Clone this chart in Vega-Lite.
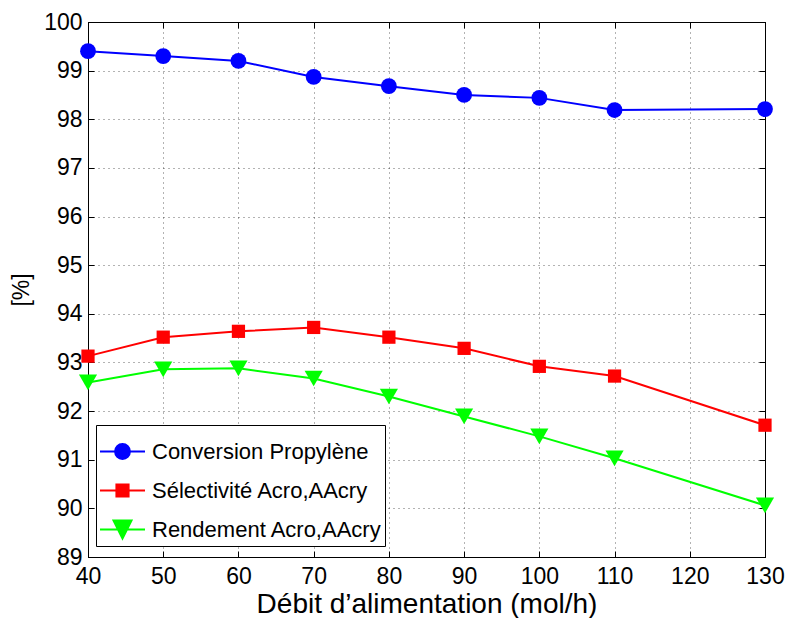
{
  "$schema": "https://vega.github.io/schema/vega-lite/v6.json",
  "width": 677,
  "height": 535,
  "autosize": {"type": "none"},
  "padding": {"left": 88, "top": 22, "right": 22, "bottom": 61},
  "background": "white",
  "config": {
    "font": "Liberation Sans",
    "view": {"stroke": "black", "strokeWidth": 1},
    "axis": {
      "domainColor": "black",
      "tickColor": "black",
      "labelColor": "black",
      "titleColor": "black",
      "tickSize": -6,
      "labelFontSize": 23,
      "labelFont": "Liberation Sans",
      "titleFont": "Liberation Sans",
      "titleFontWeight": "normal",
      "gridColor": "black",
      "gridOpacity": 0.6,
      "gridDash": [1, 4],
      "gridWidth": 1
    }
  },
  "data": {
    "values": [
      {"x": 40, "y": 99.40, "s": "Conversion Propylène"},
      {"x": 50, "y": 99.30, "s": "Conversion Propylène"},
      {"x": 60, "y": 99.20, "s": "Conversion Propylène"},
      {"x": 70, "y": 98.87, "s": "Conversion Propylène"},
      {"x": 80, "y": 98.68, "s": "Conversion Propylène"},
      {"x": 90, "y": 98.50, "s": "Conversion Propylène"},
      {"x": 100, "y": 98.44, "s": "Conversion Propylène"},
      {"x": 110, "y": 98.19, "s": "Conversion Propylène"},
      {"x": 130, "y": 98.21, "s": "Conversion Propylène"},
      {"x": 40, "y": 93.13, "s": "Sélectivité Acro,AAcry"},
      {"x": 50, "y": 93.52, "s": "Sélectivité Acro,AAcry"},
      {"x": 60, "y": 93.64, "s": "Sélectivité Acro,AAcry"},
      {"x": 70, "y": 93.72, "s": "Sélectivité Acro,AAcry"},
      {"x": 80, "y": 93.52, "s": "Sélectivité Acro,AAcry"},
      {"x": 90, "y": 93.29, "s": "Sélectivité Acro,AAcry"},
      {"x": 100, "y": 92.92, "s": "Sélectivité Acro,AAcry"},
      {"x": 110, "y": 92.72, "s": "Sélectivité Acro,AAcry"},
      {"x": 130, "y": 91.71, "s": "Sélectivité Acro,AAcry"},
      {"x": 40, "y": 92.59, "s": "Rendement Acro,AAcry"},
      {"x": 50, "y": 92.86, "s": "Rendement Acro,AAcry"},
      {"x": 60, "y": 92.88, "s": "Rendement Acro,AAcry"},
      {"x": 70, "y": 92.67, "s": "Rendement Acro,AAcry"},
      {"x": 80, "y": 92.30, "s": "Rendement Acro,AAcry"},
      {"x": 90, "y": 91.89, "s": "Rendement Acro,AAcry"},
      {"x": 100, "y": 91.48, "s": "Rendement Acro,AAcry"},
      {"x": 110, "y": 91.03, "s": "Rendement Acro,AAcry"},
      {"x": 130, "y": 90.06, "s": "Rendement Acro,AAcry"}
    ]
  },
  "layer": [
    {
      "mark": {"type": "line", "strokeWidth": 2},
      "encoding": {
        "x": {"field": "x", "type": "quantitative", "scale": {"domain": [40, 130], "nice": false, "zero": false},
          "axis": {"orient": "bottom", "values": [40, 50, 60, 70, 80, 90, 100, 110, 120, 130], "grid": true, "labelPadding": 14, "title": "Débit d’alimentation (mol/h)", "titleFontSize": 28, "titlePadding": 2, "labelFlush": false}},
        "y": {"field": "y", "type": "quantitative", "scale": {"domain": [89, 100], "nice": false, "zero": false},
          "axis": {"orient": "left", "values": [89, 90, 91, 92, 93, 94, 95, 96, 97, 98, 99, 100], "grid": true, "labelPadding": 12, "title": "[%]", "titleFontSize": 23, "titlePadding": 10}},
        "stroke": {"field": "s", "type": "nominal", "scale": {"domain": ["Conversion Propylène", "Sélectivité Acro,AAcry", "Rendement Acro,AAcry"], "range": ["#0000ff", "#ff0000", "#00ff00"]}, "legend": null}
      }
    },
    {
      "mark": {"type": "point", "filled": true, "opacity": 1},
      "encoding": {
        "x": {"field": "x", "type": "quantitative", "scale": {"domain": [40, 130], "nice": false, "zero": false},
          "axis": {"orient": "top", "values": [40, 50, 60, 70, 80, 90, 100, 110, 120, 130], "grid": false, "labels": false, "title": null}},
        "y": {"field": "y", "type": "quantitative", "scale": {"domain": [89, 100], "nice": false, "zero": false},
          "axis": {"orient": "right", "values": [89, 90, 91, 92, 93, 94, 95, 96, 97, 98, 99, 100], "grid": false, "labels": false, "title": null}},
        "fill": {"field": "s", "type": "nominal", "scale": {"domain": ["Conversion Propylène", "Sélectivité Acro,AAcry", "Rendement Acro,AAcry"], "range": ["#0000ff", "#ff0000", "#00ff00"]}, "legend": null},
        "shape": {"field": "s", "type": "nominal", "scale": {"domain": ["Conversion Propylène", "Sélectivité Acro,AAcry", "Rendement Acro,AAcry"], "range": ["circle", "square", "triangle-down"]}, "legend": null},
        "size": {"field": "s", "type": "nominal", "scale": {"type": "ordinal", "domain": ["Conversion Propylène", "Sélectivité Acro,AAcry", "Rendement Acro,AAcry"], "range": [250, 175, 330]}, "legend": null}
      }
    },
    {
      "transform": [{"filter": "datum.y > 1000"}],
      "mark": {"type": "point", "filled": true, "opacity": 1, "strokeWidth": 2},
      "encoding": {
        "x": {"field": "x", "type": "quantitative", "scale": {"domain": [40, 130], "nice": false, "zero": false}, "axis": null},
        "y": {"field": "y", "type": "quantitative", "scale": {"domain": [89, 100], "nice": false, "zero": false}, "axis": null},
        "fill": {"field": "s", "type": "nominal", "scale": {"domain": ["Conversion Propylène", "Sélectivité Acro,AAcry", "Rendement Acro,AAcry"], "range": ["#0000ff", "#ff0000", "#00ff00"]},
          "legend": {"title": null, "orient": "none", "legendX": 8, "legendY": 403, "symbolSize": 2025, "symbolStrokeWidth": 2, "labelFontSize": 22, "labelFont": "Liberation Sans", "labelColor": "black", "labelLimit": 400, "padding": 3, "strokeColor": "black", "fillColor": "white", "rowPadding": 4, "labelOffset": 6}},
        "stroke": {"field": "s", "type": "nominal", "scale": {"domain": ["Conversion Propylène", "Sélectivité Acro,AAcry", "Rendement Acro,AAcry"], "range": ["#0000ff", "#ff0000", "#00ff00"]},
          "legend": {"title": null, "orient": "none", "legendX": 8, "legendY": 403, "symbolSize": 2025, "symbolStrokeWidth": 2, "labelFontSize": 22, "labelFont": "Liberation Sans", "labelColor": "black", "labelLimit": 400, "padding": 3, "strokeColor": "black", "fillColor": "white", "rowPadding": 4, "labelOffset": 6}},
        "shape": {"field": "s", "type": "nominal", "scale": {"domain": ["Conversion Propylène", "Sélectivité Acro,AAcry", "Rendement Acro,AAcry"], "range": ["M-1,0H1M0.33,0A0.33,0.33,0,1,1,-0.33,0A0.33,0.33,0,1,1,0.33,0Z", "M-1,0H1M-0.27,-0.27H0.27V0.27H-0.27Z", "M-1,0H1M-0.4,-0.4H0.4L0,0.4Z"]},
          "legend": {"title": null, "orient": "none", "legendX": 8, "legendY": 403, "symbolSize": 2025, "symbolStrokeWidth": 2, "labelFontSize": 22, "labelFont": "Liberation Sans", "labelColor": "black", "labelLimit": 400, "padding": 3, "strokeColor": "black", "fillColor": "white", "rowPadding": 4, "labelOffset": 6}}
      }
    }
  ],
  "resolve": {
    "scale": {"fill": "independent", "stroke": "independent", "shape": "independent", "size": "independent"},
    "axis": {"x": "independent", "y": "independent"}
  }
}
